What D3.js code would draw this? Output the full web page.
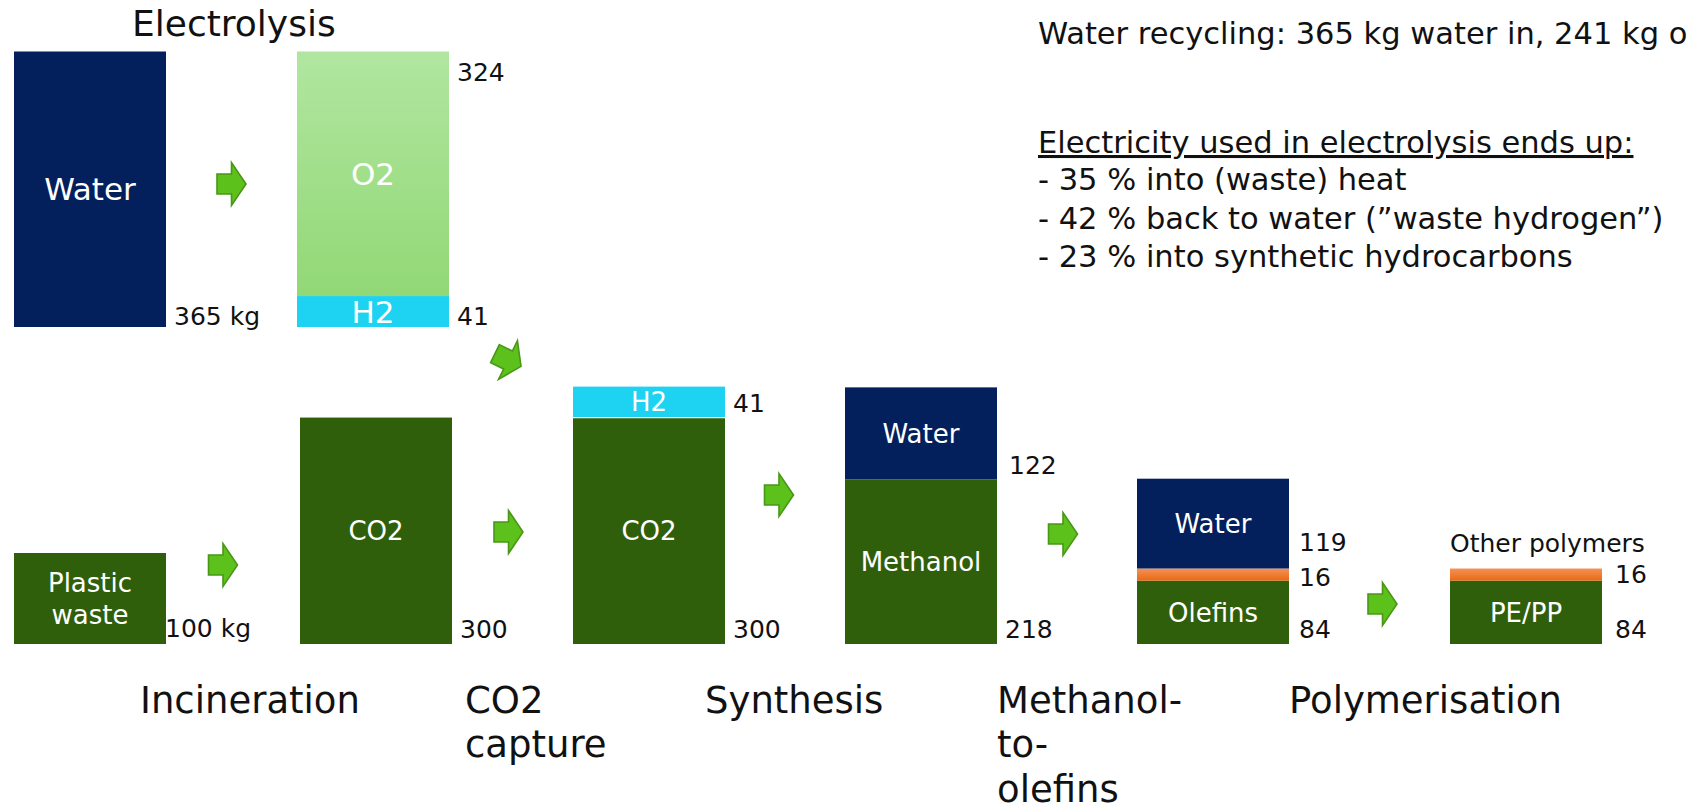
<!DOCTYPE html>
<html>
<head>
<meta charset="utf-8">
<script src="https://cdn.jsdelivr.net/npm/d3@7"></script>
<style>
  body { margin: 0; background: #fff; }
  text { font-family: "DejaVu Sans", sans-serif; }
</style>
</head>
<body>
<svg id="chart" width="1688" height="806"></svg>
<script>
// stacks, bottom segment first
const stacks = ["water", "electrolysis", "plastic", "capture", "synthesis", "methanol", "olefins", "polymers"];
const stackRow = ["top", "top", "bottom", "bottom", "bottom", "bottom", "bottom", "bottom"];
const segLabels = [["Water"], ["H2", "O2"], ["Plastic\nwaste"], ["CO2"], ["CO2", "H2"],
                   ["Methanol", "Water"], ["Olefins", "", "Water"], ["PE/PP", "Other polymers"]];
const segValues = [[365], [41, 324], [100], [300], [300, 41], [218, 122], [84, 16, 119], [84, 16]];
const segKinds = [["water"], ["h2", "o2"], ["carbon"], ["carbon"], ["carbon", "h2"],
                  ["carbon", "water"], ["carbon", "other", "water"], ["carbon", "other"]];
const valueText = [["365 kg"], ["41", "324"], ["100 kg"], ["300"], ["300", "41"],
                   ["218", "122"], ["84", "16", "119"], ["84", "16"]];

const flows = [["water", "electrolysis"], ["plastic", "capture"], ["capture", "synthesis"],
               ["synthesis", "methanol"], ["methanol", "olefins"], ["olefins", "polymers"]];

const stageNames = ["Incineration", "CO2\ncapture", "Synthesis", "Methanol-\nto-\nolefins", "Polymerisation"];
const titleText = "Electrolysis";
const noteTop = "Water recycling: 365 kg water in, 241 kg out";
const noteHead = "Electricity used in electrolysis ends up:";
const noteLines = ["- 35 % into (waste) heat", "- 42 % back to water (\u201dwaste hydrogen\u201d)", "- 23 % into synthetic hydrocarbons"];

// ---- layout ----
const svg = d3.select("#chart");
const barW = 152;
const x = d3.scaleOrdinal().domain(stacks).range([14, 297, 14, 300, 573, 845, 1137, 1450]);
const h = d3.scaleLinear().domain([0, 365]).range([0, 275.5]);
const base = { top: 327, bottom: 644 };
const minBoxH = 91; // plastic waste box is drawn taller so the two-line label fits

const defs = svg.append("defs");
let gradient = (id, top, bottom) => {
  let g = defs.append("linearGradient").attr("id", id)
    .attr("x1", 0).attr("y1", 0).attr("x2", 0).attr("y2", 1);
  g.append("stop").attr("offset", "0%").attr("stop-color", top);
  g.append("stop").attr("offset", "100%").attr("stop-color", bottom);
};
gradient("gO2", "#b1e6a0", "#92d876");
gradient("gOther", "#f5915a", "#ea6a10");

const color = d3.scaleOrdinal()
  .domain(["water", "h2", "o2", "carbon", "other"])
  .range(["#03205c", "#1dd3f1", "url(#gO2)", "#2f5f0b", "url(#gOther)"]);

// value label nudges [dx, dy] keyed by stack:segment
const nudge = {
  "water:0": [0, 4], "electrolysis:0": [0, 4], "plastic:0": [-9, -1],
  "olefins:0": [2, 0], "olefins:1": [2, 11], "olefins:2": [2, -12],
  "polymers:0": [5, 0], "polymers:1": [5, 8], "methanol:1": [4, 1]
};

// build segment table
let segs = [];
stacks.forEach((s, i) => {
  let y0 = base[stackRow[i]];
  segValues[i].forEach((v, j) => {
    let lab = segLabels[i][j];
    let hh = lab.includes("\n") ? Math.max(h(v), minBoxH) : h(v);
    segs.push({ stack: s, j, n: segValues[i].length, row: stackRow[i], value: v, label: lab,
                kind: segKinds[i][j], text: valueText[i][j], y: y0 - hh, h: hh, bottom: y0 });
    y0 -= hh;
  });
});

svg.append("g").selectAll("rect").data(segs).join("rect")
  .attr("x", d => x(d.stack))
  .attr("y", d => d.y)
  .attr("width", barW)
  .attr("height", d => d.h)
  .attr("fill", d => color(d.kind));

// white hairline between H2 and CO2 in synthesis
svg.append("line")
  .attr("x1", x("synthesis")).attr("x2", x("synthesis") + barW)
  .attr("y1", base.bottom - h(300)).attr("y2", base.bottom - h(300))
  .attr("stroke", "#fff").attr("stroke-width", 1.2);

// labels inside the bars
let inside = segs.filter(d => d.label && d.h >= 20);
let insideText = svg.append("g").selectAll("text").data(inside).join("text")
  .attr("text-anchor", "middle")
  .attr("fill", "#fff")
  .attr("font-size", d => d.row === "top" ? 31 : 26)
  .attr("x", d => x(d.stack) + barW / 2);
insideText.each(function(d) {
  let lines = d.label.split("\n");
  let lh = 32;
  let mid = d.y + d.h / 2 - (lines.length - 1) * lh / 2;
  d3.select(this).selectAll("tspan").data(lines).join("tspan")
    .attr("x", x(d.stack) + barW / 2)
    .attr("y", (l, k) => mid + k * lh)
    .attr("dy", "0.36em")
    .text(l => l);
});

// labels for thin segments sit above the stack
svg.append("g").selectAll("text").data(segs.filter(d => d.label && d.h < 20)).join("text")
  .attr("x", d => x(d.stack))
  .attr("y", d => d.y - 17)
  .attr("font-size", 25)
  .attr("fill", "#111")
  .text(d => d.label);

// value labels
svg.append("g").selectAll("text").data(segs).join("text")
  .attr("font-size", 25)
  .attr("fill", "#111")
  .attr("x", d => x(d.stack) + barW + 8 + (nudge[d.stack + ":" + d.j] || [0, 0])[0])
  .attr("y", d => {
    let n = (nudge[d.stack + ":" + d.j] || [0, 0])[1];
    if (d.j > 0 && d.j === d.n - 1 && d.h > 150) return d.y + 29;
    return d.bottom - 6 + n;
  })
  .text(d => d.text);

// block arrows
let arrowPath = "M-14.5,-10 L0,-10 L0,-21.5 L14.5,0 L0,21.5 L0,10 L-14.5,10 Z";
const arrowY = [184, 565, 532, 495, 534, 604];
const arrowDx = [0, -10, -4, -6, -4, 13];
let arrows = flows.map(([a, b], i) => ({
  cx: (x(a) + barW + x(b)) / 2 + arrowDx[i], cy: arrowY[i], angle: 0
}));
// hydrogen from electrolysis down into synthesis
arrows.push({ cx: 508, cy: 360, angle: 26 });

svg.append("g").selectAll("path").data(arrows).join("path")
  .attr("d", arrowPath)
  .attr("transform", d => `translate(${d.cx},${d.cy}) rotate(${d.angle})`)
  .attr("fill", "#5cc11b")
  .attr("stroke", "#4a9617")
  .attr("stroke-width", 1.6)
  .attr("stroke-linejoin", "miter");

// title
svg.append("text")
  .attr("x", 132).attr("y", 36)
  .attr("font-size", 36)
  .attr("fill", "#111")
  .text(titleText);

// process stage names
const stageX = d3.scaleOrdinal().domain(stageNames).range([140, 465, 705, 997, 1289]);
svg.append("g").selectAll("text").data(stageNames).join("text")
  .attr("font-size", 37)
  .attr("fill", "#111")
  .each(function(s) {
    d3.select(this).selectAll("tspan").data(s.split("\n")).join("tspan")
      .attr("x", stageX(s))
      .attr("y", (l, k) => 713 + k * 44.3)
      .text(l => l);
  });

// notes at the top right
let notes = svg.append("g").attr("font-size", 30.5).attr("fill", "#111");
notes.append("text").attr("x", 1038).attr("y", 44).text(noteTop);
notes.append("text").attr("x", 1038).attr("y", 153)
  .style("text-decoration", "underline").text(noteHead);
notes.selectAll("text.line").data(noteLines).join("text")
  .attr("class", "line")
  .attr("x", 1038)
  .attr("y", (d, i) => 190 + i * 38.7)
  .text(d => d);
</script>
</body>
</html>
